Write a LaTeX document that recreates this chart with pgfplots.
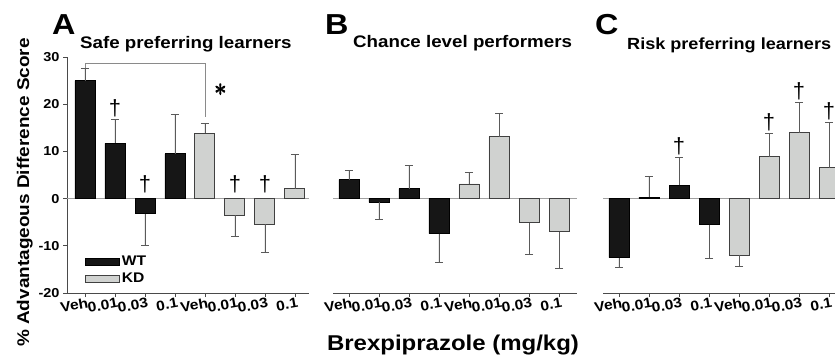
\documentclass[border=0pt]{standalone}
\usepackage{fontspec}
\setmainfont{Liberation Sans}[FakeStretch=1.12]
\newfontfamily\plainfont{Liberation Sans}
\usepackage{pgfplots}
\pgfplotsset{compat=1.18}
\definecolor{wtc}{HTML}{161616}
\definecolor{kdc}{HTML}{D0D2D0}
\definecolor{kde}{HTML}{404040}
\definecolor{axc}{HTML}{4A4A4A}
\definecolor{errc}{HTML}{5A5A5A}
\definecolor{zc}{HTML}{A0A0A0}
\definecolor{brc}{HTML}{8A8A8A}
\tikzset{dag/.style={anchor=south, inner sep=0pt, yshift=1bp, font=\plainfont\fontsize{22}{22}\selectfont},
  ast/.style={inner sep=0pt, font=\fontsize{72}{72}\selectfont}}
\pgfplotsset{
  panel/.style={
    scale only axis, height=236bp, width=244bp,
    ymin=-20, ymax=30,
    xmin=-0.533, xmax=7.6,
    axis x line*=bottom,
    axis line style={axc, line width=0.8bp},
    xtick={0,...,7},
    xticklabels={Veh,0.01,0.03,0.1,Veh,0.01,0.03,0.1},
    tick align=outside,
    major tick length=4bp,
    tick style={axc, line width=0.8bp},
    /pgf/number format/assume math mode=true,
    xticklabel style={font=\bfseries\fontsize{14}{14}\selectfont, rotate=10, anchor=north east, inner sep=1bp, xshift=3bp},
    clip=false,
  },
  wtbar/.style={ybar, bar width=20bp, bar shift=0pt, fill=wtc, draw=black, line width=0.8bp},
  kdbar/.style={ybar, bar width=20bp, bar shift=0pt, fill=kdc, draw=kde, line width=0.9bp},
  eup/.style={error bars/y dir=plus, error bars/y explicit, error bars/error bar style={errc, line width=0.7bp}, error bars/error mark options={errc, rotate=90, mark size=4bp, line width=0.7bp}},
  edn/.style={error bars/y dir=minus, error bars/y explicit, error bars/error bar style={errc, line width=0.7bp}, error bars/error mark options={errc, rotate=90, mark size=4bp, line width=0.7bp}},
}
\begin{document}
\begin{tikzpicture}
% ---------------- Panel A ----------------
\begin{axis}[panel, at={(67bp,65bp)}, anchor=south west, width=242bp,
  xmin=-0.6, xmax=7.47,
  axis y line*=left,
  ytick={-20,-10,0,10,20,30},
  yticklabels={-20,-10,0,10,20,30},
  yticklabel style={font=\bfseries\fontsize{13}{13}\selectfont},
  legend style={at={(0.062,0.02)}, anchor=south west, draw=none, fill=none,
    font=\bfseries\fontsize{14}{14}\selectfont, row sep=2bp},
  legend cell align=left]
\addplot[zc, line width=1.5bp, forget plot] coordinates {(-0.6,0) (7.47,0)};
\addplot[wtbar, eup, legend image code/.code={\draw[fill=wtc,draw=black,line width=0.8bp] (0pt,-3.5pt) rectangle (34pt,3.5pt);}] coordinates {(0,25) +- (0,2.6) (1,11.7) +- (0,5.1) (3,9.5) +- (0,8.3)};
\addlegendentry{WT}
\addplot[forget plot, wtbar, edn] coordinates {(2,-3.2) +- (0,6.7)};
\addplot[kdbar, eup, legend image code/.code={\draw[fill=kdc,draw=kde,line width=0.9bp] (0pt,-3.5pt) rectangle (34pt,3.5pt);}] coordinates {(4,13.8) +- (0,2.1) (7,2.1) +- (0,7.3)};
\addlegendentry{KD}
\addplot[forget plot, kdbar, edn] coordinates {(5,-3.5) +- (0,4.4) (6,-5.4) +- (0,5.9)};
\addplot[brc, line width=0.8bp, forget plot] coordinates {(0,27.6) (0,28.7) (4.03,28.7) (4.03,17.2)};
\node[dag] at (axis cs:1,17.1) {†};
\node[dag] at (axis cs:2,1.0) {†};
\node[dag] at (axis cs:5,1.0) {†};
\node[dag] at (axis cs:6,1.0) {†};
\end{axis}
% ---------------- Panel B ----------------
\begin{axis}[panel, at={(333bp,65bp)}, anchor=south west, hide y axis]
\addplot[zc, line width=1.5bp, forget plot] coordinates {(-0.533,0) (7.6,0)};
\addplot[wtbar, eup] coordinates {(0,4.0) +- (0,1.9) (2,2.1) +- (0,5.0)};
\addplot[wtbar, edn] coordinates {(1,-0.8) +- (0,3.7) (3,-7.4) +- (0,6.1)};
\addplot[kdbar, eup] coordinates {(4,3.1) +- (0,2.4) (5,13.1) +- (0,5.0)};
\addplot[kdbar, edn] coordinates {(6,-5.1) +- (0,6.7) (7,-7.0) +- (0,7.8)};
\end{axis}
% ---------------- Panel C ----------------
\begin{axis}[panel, at={(603bp,65bp)}, anchor=south west, hide y axis]
\addplot[zc, line width=1.5bp, forget plot] coordinates {(-0.533,0) (7.6,0)};
\addplot[wtbar, edn] coordinates {(0,-12.5) +- (0,2.1) (3,-5.5) +- (0,7.1)};
\addplot[wtbar, eup] coordinates {(1,0.3) +- (0,4.5) (2,2.8) +- (0,5.9)};
\addplot[kdbar, edn] coordinates {(4,-12.0) +- (0,2.3)};
\addplot[kdbar, eup] coordinates {(5,8.9) +- (0,4.9) (6,14.0) +- (0,6.4) (7,6.5) +- (0,9.7)};
\node[dag] at (axis cs:2,8.9) {†};
\node[dag] at (axis cs:5,14.0) {†};
\node[dag] at (axis cs:6,20.6) {†};
\node[dag] at (axis cs:7,16.4) {†};
\end{axis}
% ---------------- Labels ----------------
\node[ast] at (220.1bp,268bp) {$\ast$};
\node[ast] at (220.9bp,268bp) {$\ast$};
\node[ast] at (220.5bp,268.5bp) {$\ast$};
\node[ast] at (220.5bp,267.5bp) {$\ast$};
\node[anchor=base west, inner sep=0pt, font=\bfseries\fontsize{29}{29}\selectfont] at (52bp,323bp) {A};
\node[anchor=base west, inner sep=0pt, font=\bfseries\fontsize{16.8}{17}\selectfont] at (80bp,309bp) {Safe preferring learners};
\node[anchor=base west, inner sep=0pt, font=\bfseries\fontsize{29}{29}\selectfont] at (325bp,323bp) {B};
\node[anchor=base west, inner sep=0pt, font=\bfseries\fontsize{16.8}{17}\selectfont] at (353bp,310bp) {Chance level performers};
\node[anchor=base west, inner sep=0pt, font=\bfseries\fontsize{29}{29}\selectfont] at (595bp,323bp) {C};
\node[anchor=base west, inner sep=0pt, font=\bfseries\fontsize{16.2}{17}\selectfont] at (627bp,308bp) {Risk preferring learners};
\node[rotate=90, anchor=base, inner sep=0pt, font=\bfseries\fontsize{17}{18}\selectfont] at (29bp,165.5bp) {\% Advantageous Difference Score};
\node[anchor=base, inner sep=0pt, font=\bfseries\fontsize{21.5}{22}\selectfont] at (453bp,8bp) {Brexpiprazole (mg/kg)};
\pgfresetboundingbox
\useasboundingbox (0,0) rectangle (835bp,358bp);
\end{tikzpicture}
\end{document}
